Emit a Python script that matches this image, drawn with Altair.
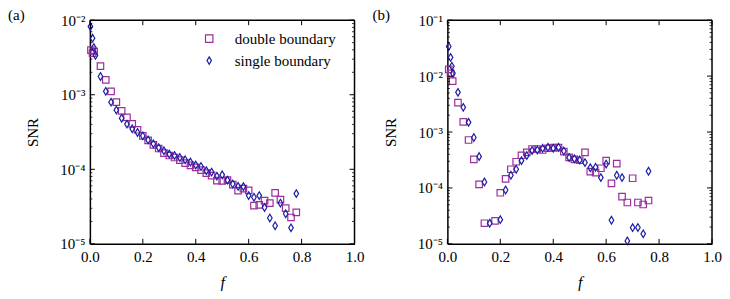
import altair as alt
import pandas as pd

# ---------------- data ----------------
series_names = ["double boundary", "single boundary"]

# panel (a)
fa_double = [0.004, 0.010, 0.016, 0.04, 0.06, 0.08, 0.10, 0.12, 0.14, 0.16, 0.18, 0.20,
             0.22, 0.24, 0.26, 0.28, 0.30, 0.32, 0.34, 0.36, 0.38, 0.40, 0.42, 0.44,
             0.46, 0.48, 0.50, 0.52, 0.54, 0.56, 0.58, 0.60, 0.62, 0.64, 0.66, 0.68,
             0.70, 0.72, 0.74, 0.76, 0.78]
snra_double = [3.96e-3, 3.6e-3, 3.8e-3, 2.42e-3, 1.58e-3, 1.11e-3, 7.96e-4, 6.08e-4, 4.96e-4,
               4.07e-4, 3.39e-4, 2.81e-4, 2.44e-4, 2.13e-4, 1.90e-4, 1.65e-4, 1.53e-4,
               1.44e-4, 1.33e-4, 1.21e-4, 1.13e-4, 1.06e-4, 9.75e-5, 8.9e-5, 8.24e-5,
               7.06e-5, 7.0e-5, 7.16e-5, 6.24e-5, 5.19e-5, 5.5e-5, 5.21e-5, 3.26e-5,
               3.34e-5, 3.8e-5, 3.52e-5, 4.84e-5, 3.93e-5, 3.02e-5, 2.26e-5, 2.64e-5]

fa_single = [0.002, 0.010, 0.015, 0.021, 0.04, 0.06, 0.08, 0.10, 0.12, 0.14, 0.16, 0.18,
             0.20, 0.22, 0.24, 0.26, 0.28, 0.30, 0.32, 0.34, 0.36, 0.38, 0.40, 0.42,
             0.44, 0.46, 0.48, 0.50, 0.52, 0.54, 0.56, 0.58, 0.60, 0.62, 0.64, 0.66,
             0.68, 0.70, 0.72, 0.74, 0.76, 0.78]
snra_single = [8.2e-3, 5.74e-3, 4.3e-3, 3.37e-3, 1.76e-3, 1.11e-3, 7.96e-4, 6.22e-4, 4.85e-4,
               4.04e-4, 3.49e-4, 3.12e-4, 2.81e-4, 2.48e-4, 2.20e-4, 1.95e-4, 1.77e-4,
               1.60e-4, 1.53e-4, 1.44e-4, 1.34e-4, 1.25e-4, 1.14e-4, 1.09e-4, 9.6e-5,
               9.17e-5, 8.1e-5, 8.43e-5, 7.16e-5, 6.34e-5, 5.9e-5, 5.86e-5, 4.44e-5,
               4.22e-5, 4.44e-5, 3.08e-5, 2.22e-5, 1.75e-5, 3.52e-5, 2.53e-5, 1.64e-5,
               4.72e-5]

# panel (b)
fb_double = [0.005, 0.012, 0.02, 0.04, 0.06, 0.08, 0.10, 0.12, 0.14, 0.18, 0.20, 0.22,
             0.24, 0.26, 0.28, 0.30, 0.32, 0.34, 0.36, 0.38, 0.40, 0.42, 0.44, 0.46,
             0.48, 0.50, 0.52, 0.54, 0.56, 0.58, 0.60, 0.62, 0.64, 0.66, 0.68, 0.70,
             0.72, 0.74, 0.76]
snrb_double = [1.32e-2, 1.12e-2, 8.14e-3, 3.35e-3, 1.52e-3, 7.2e-4, 3.25e-4, 1.16e-4, 2.34e-5,
               2.58e-5, 8.2e-5, 1.45e-4, 2.16e-4, 2.94e-4, 3.84e-4, 4.34e-4, 4.97e-4,
               4.97e-4, 4.77e-4, 5.12e-4, 5.26e-4, 5.26e-4, 4.47e-4, 3.53e-4, 3.25e-4,
               3.13e-4, 4.34e-4, 1.96e-4, 1.88e-4, 2.25e-4, 3.08e-4, 1.21e-4, 2.73e-4,
               7.0e-5, 5.49e-5, 1.49e-4, 5.49e-5, 5.06e-5, 5.96e-5]

fb_single = [0.005, 0.012, 0.017, 0.021, 0.04, 0.06, 0.08, 0.10, 0.12, 0.14, 0.16, 0.20,
             0.22, 0.24, 0.26, 0.28, 0.30, 0.32, 0.34, 0.36, 0.38, 0.40, 0.42, 0.44,
             0.46, 0.48, 0.50, 0.52, 0.54, 0.56, 0.58, 0.60, 0.62, 0.64, 0.66, 0.68,
             0.70, 0.72, 0.74, 0.76]
snrb_single = [3.39e-2, 2.16e-2, 1.50e-2, 1.12e-2, 5.12e-3, 2.76e-3, 1.49e-3, 7.98e-4, 3.64e-4,
               1.28e-4, 2.34e-5, 2.71e-5, 9.2e-5, 1.69e-4, 2.16e-4, 3.08e-4, 3.79e-4,
               4.66e-4, 4.77e-4, 5.12e-4, 5.33e-4, 5.12e-4, 5.33e-4, 4.58e-4, 3.49e-4,
               3.32e-4, 3.16e-4, 2.84e-4, 2.30e-4, 2.34e-4, 1.53e-4, 2.68e-4, 2.65e-5,
               1.69e-4, 1.53e-4, 1.13e-5, 1.95e-5, 1.96e-5, 1.51e-5, 1.99e-4]

x_ticks = [0.0, 0.2, 0.4, 0.6, 0.8, 1.0]
decades_a = [1e-5, 1e-4, 1e-3, 1e-2]
decades_b = [1e-5, 1e-4, 1e-3, 1e-2, 1e-1]
minor_mult = [2, 3, 4, 5, 6, 7, 8, 9]

# ---------------- styling ----------------
W, H = 265, 224
FONT = "Liberation Serif"
COLORS = ["#9b2f9b", "#1c1ca6"]
FRAME_W = 1.5
FRAME_C = "black"
THIN_DIAMOND = "M0,-1L0.6,0L0,1L-0.6,0Z"
LABEL_EXPR = ("datum.value < 2e-5 ? '10⁻⁵' : datum.value < 2e-4 ? '10⁻⁴' : "
              "datum.value < 2e-3 ? '10⁻³' : datum.value < 2e-2 ? '10⁻²' : '10⁻¹'")


def points_frame(f1, s1, f2, s2):
    return pd.concat([
        pd.DataFrame({"f": f1, "snr": s1, "series": series_names[0]}),
        pd.DataFrame({"f": f2, "snr": s2, "series": series_names[1]}),
    ], ignore_index=True)


def panel(df, decades, tag, show_legend):
    ymin, ymax = decades[0], decades[-1]
    xscale = alt.Scale(domain=[0, 1], nice=False)
    yscale = alt.Scale(type="log", domain=[ymin, ymax], nice=False)

    x_axis = alt.Axis(values=x_ticks, format=".1f", title="f", ticks=False,
                      domain=True, domainColor=FRAME_C, domainWidth=FRAME_W,
                      grid=False, labelPadding=6, labelFlush=False,
                      labelFont=FONT, labelFontSize=15, labelColor="black",
                      titleFont=FONT, titleFontSize=16, titleFontStyle="italic",
                      titleFontWeight="normal", titleColor="black",
                      titleBaseline="middle", titleY=39)
    y_axis = alt.Axis(values=decades, labelExpr=LABEL_EXPR, title="SNR",
                      ticks=False, domain=True, domainColor=FRAME_C, domainWidth=FRAME_W,
                      grid=False, labelPadding=5, labelFlush=False,
                      labelFont=FONT, labelFontSize=15, labelColor="black",
                      titleFont=FONT, titleFontSize=15, titleFontWeight="normal",
                      titleColor="black", titleBaseline="middle",
                      titleX=-57, titleY=H / 2, titleAngle=-90)

    if show_legend:
        legend = alt.Legend(title=None, orient="none", legendX=112, legendY=11,
                            labelFont=FONT, labelFontSize=15, labelColor="black",
                            symbolSize=55, symbolStrokeWidth=1.2, rowPadding=6,
                            labelOffset=18)
    else:
        legend = None

    pts = alt.Chart(df).mark_point(filled=False, strokeWidth=1.2, opacity=1).encode(
        x=alt.X("f:Q", scale=xscale, axis=x_axis),
        y=alt.Y("snr:Q", scale=yscale, axis=y_axis),
        color=alt.Color("series:N", scale=alt.Scale(domain=series_names, range=COLORS),
                        legend=legend),
        shape=alt.Shape("series:N",
                        scale=alt.Scale(domain=series_names, range=["square", THIN_DIAMOND]),
                        legend=legend),
        size=alt.Size("series:N", scale=alt.Scale(domain=series_names, range=[42, 58]),
                      legend=None),
    )

    xt = pd.DataFrame({"f": x_ticks})
    x_bottom = alt.Chart(xt).mark_rule(color="black", strokeWidth=1).encode(
        x=alt.X("f:Q", scale=xscale, axis=x_axis), y=alt.value(H), y2=alt.value(H - 5))
    x_top = alt.Chart(xt).mark_rule(color="black", strokeWidth=1).encode(
        x=alt.X("f:Q", scale=xscale, axis=x_axis), y=alt.value(0), y2=alt.value(5))

    yt = pd.DataFrame({"snr": decades})
    minor = [d * m for d in decades[:-1] for m in minor_mult]
    ym = pd.DataFrame({"snr": minor})
    y_left = alt.Chart(yt).mark_rule(color="black", strokeWidth=1).encode(
        y=alt.Y("snr:Q", scale=yscale, axis=y_axis), x=alt.value(0), x2=alt.value(5))
    y_right = alt.Chart(yt).mark_rule(color="black", strokeWidth=1).encode(
        y=alt.Y("snr:Q", scale=yscale, axis=y_axis), x=alt.value(W - 5), x2=alt.value(W))
    ym_left = alt.Chart(ym).mark_rule(color="black", strokeWidth=0.8).encode(
        y=alt.Y("snr:Q", scale=yscale, axis=y_axis), x=alt.value(0), x2=alt.value(2.5))
    ym_right = alt.Chart(ym).mark_rule(color="black", strokeWidth=0.8).encode(
        y=alt.Y("snr:Q", scale=yscale, axis=y_axis), x=alt.value(W - 2.5), x2=alt.value(W))

    # top and right frame lines, spanning the scale domains
    span_x = pd.DataFrame({"f0": [0.0], "f1": [1.0]})
    span_y = pd.DataFrame({"s0": [ymin], "s1": [ymax]})
    frame_top = alt.Chart(span_x).mark_rule(color=FRAME_C, strokeWidth=FRAME_W).encode(
        x=alt.X("f0:Q", scale=xscale, axis=x_axis), x2="f1:Q", y=alt.value(0))
    frame_right = alt.Chart(span_y).mark_rule(color=FRAME_C, strokeWidth=FRAME_W).encode(
        y=alt.Y("s0:Q", scale=yscale, axis=y_axis), y2="s1:Q", x=alt.value(W))

    one = pd.DataFrame({"t": [tag]})
    tag_text = alt.Chart(one).mark_text(
        font=FONT, fontSize=15, color="black", align="left", baseline="middle"
    ).encode(text="t:N", x=alt.value(-82 if tag == "(a)" else -75), y=alt.value(-5))

    return alt.layer(pts, x_bottom, x_top, y_left, y_right, ym_left, ym_right,
                     frame_top, frame_right, tag_text).properties(width=W, height=H)


df_a = points_frame(fa_double, snra_double, fa_single, snra_single)
df_b = points_frame(fb_double, snrb_double, fb_single, snrb_single)

chart = alt.hconcat(
    panel(df_a, decades_a, "(a)", True),
    panel(df_b, decades_b, "(b)", False),
    spacing=8,
).resolve_legend(color="independent", shape="independent").configure(
    padding=0, background="white"
).configure_view(strokeWidth=0)

chart.save("out.html", embed_options={"renderer": "svg", "actions": False})
